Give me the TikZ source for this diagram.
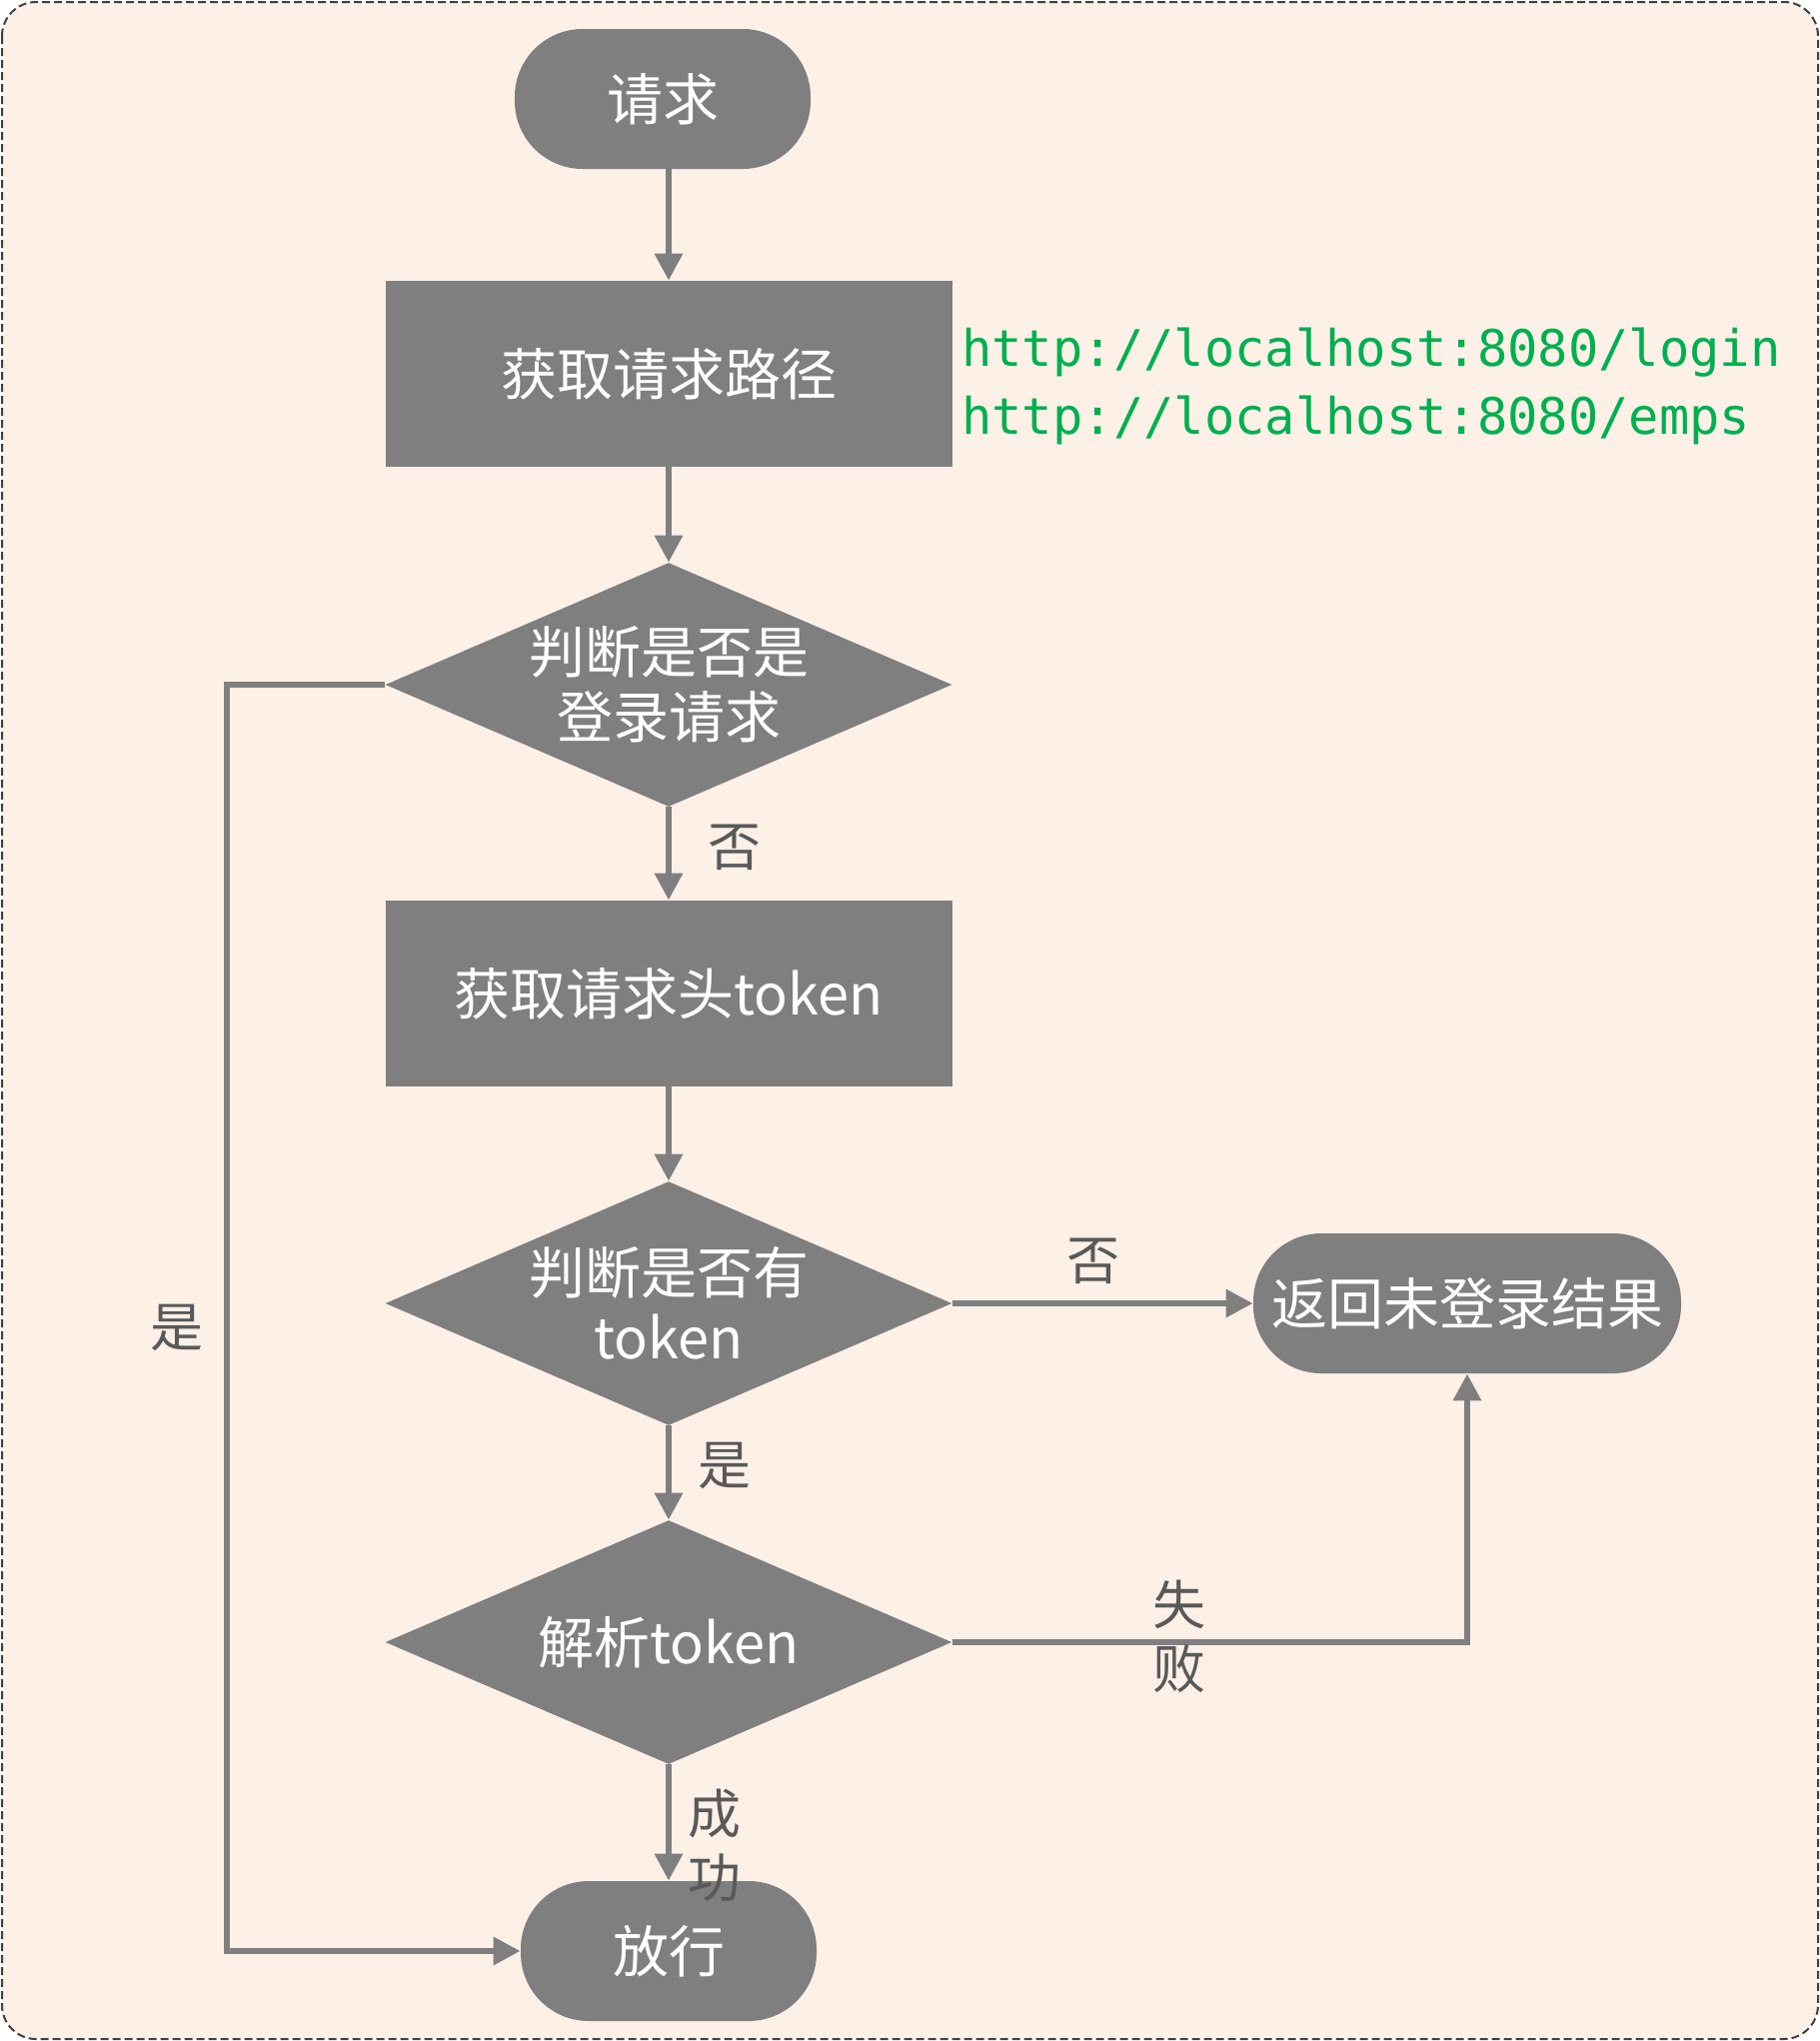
\documentclass[tikz,border=0pt]{standalone}
\usepackage{fontspec}
\setmainfont{Noto Sans CJK SC}
\newfontfamily\urlfont{DejaVu Sans Mono}
\usetikzlibrary{positioning}
\usetikzlibrary{shapes.geometric}
\usetikzlibrary{arrows.meta}
\definecolor{boxgray}{HTML}{7F7F7F}
\definecolor{labelgray}{HTML}{595959}
\definecolor{framegray}{HTML}{404040}
\definecolor{paper}{HTML}{FCF0E7}
\definecolor{urlgreen}{HTML}{00B050}
\tikzset{
	every node/.style = {font=\fontsize{28}{32.5}\selectfont},
	terminal/.style = {rectangle, rounded corners=34pt, fill=boxgray, text=white, minimum height=70pt},
	process/.style = {rectangle, fill=boxgray, text=white, minimum width=283.5pt, minimum height=93pt},
	decision/.style = {diamond, fill=boxgray, text=white, align=center, inner sep=0pt, shape aspect=2.4, minimum width=283.5pt, minimum height=122pt},
	flow/.style = {draw=boxgray, line width=3.2pt, -{Triangle[length=13.5pt, width=13.5pt]}},
	branch/.style = {text=labelgray, inner sep=0pt, align=center, font=\fontsize{26.5}{32}\selectfont}
}
\begin{document}
\begin{tikzpicture}[x=0.5pt, y=-0.5pt]
		\useasboundingbox (0,0) rectangle (1821,2042);
		% frame
		\draw[draw=framegray, fill=paper, line width=1pt, dash pattern=on 4pt off 2pt, rounded corners=17pt] (2,2) rectangle (1819,2040);
		
		% main column
		\node[terminal, minimum width=148pt] (start) at (663,99) {请求};
		\node[process] (path) at (669,374) {获取请求路径};
		\node[decision] (login) at (669,685) {判断是否是\\登录请求};
		\node[process] (tok) at (669,994) {获取请求头token};
		\node[decision] (hastok) at (669,1304) {判断是否有\\token};
		\node[decision] (parse) at (669,1643) {解析token};
		\node[terminal, minimum width=148pt] (pass) at (669,1952) {放行};
		\node[terminal, minimum width=214pt] (fail) at (1468,1304) {返回未登录结果};
		
		\node[text=urlgreen, align=left, inner sep=0pt, right=4.5pt of path, yshift=-6pt,
			font=\urlfont\fontsize{25.2}{34}\selectfont] (urls) {http://localhost:8080/login\\http://localhost:8080/emps};
		
		\coordinate (loop) at (227,685);
		
		% connectors
		\draw[flow] (start.south -| path.north) -- (path.north);
		\draw[flow] (path.south) -- (login.north);
		\draw[flow] (login.south) -- node[branch, pos=0.43, right=18pt] {否} (tok.north);
		\draw[flow] (tok.south) -- (hastok.north);
		\draw[flow] (hastok.east) -- node[branch, pos=0.47, above=8pt] {否} (fail.west);
		\draw[flow] (hastok.south) -- node[branch, pos=0.43, right=13pt] {是} (parse.north);
		\draw[flow] (parse.south) -- node[branch, pos=0.7, right=8pt] {成\\功} (pass.north);
		\draw[flow] (parse.east) -| node[branch, pos=0.22, yshift=3pt] {失\\败} (fail.south);
		\draw[flow] (login.west) -- (loop) |- node[branch, pos=0.254, left=10pt] {是} (pass.west);
	\end{tikzpicture}
\end{document}
